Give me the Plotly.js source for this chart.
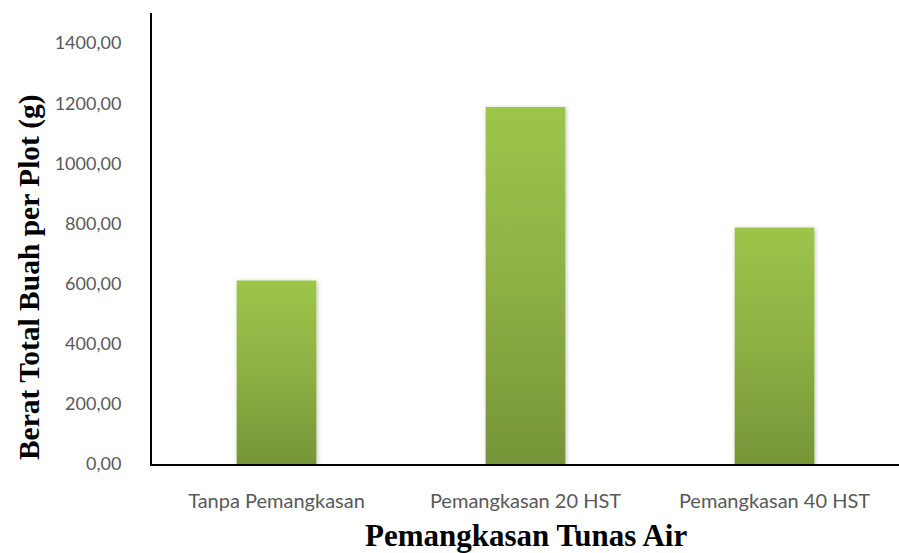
<!DOCTYPE html>
<html>
<head>
<meta charset="utf-8">
<script src="https://cdn.plot.ly/plotly-3.0.1.min.js"></script>
<style>
  html, body { margin: 0; padding: 0; background: #fff; }
  #chart { width: 899px; height: 553px; }
</style>
</head>
<body>
<div id="chart"></div>
<script>
// Treatments and total fruit weight per plot (g)
const categories = ["Tanpa Pemangkasan", "Pemangkasan 20 HST", "Pemangkasan 40 HST"];
const weights = [610, 1187, 787];
const yTickValues = [0, 200, 400, 600, 800, 1000, 1200, 1400];
const yTickLabels = ["0,00", "200,00", "400,00", "600,00", "800,00", "1000,00", "1200,00", "1400,00"];

const sans = "Lato, 'Open Sans', sans-serif";
const serif = "'Liberation Serif', 'Times New Roman', serif";

const trace = {
  type: "bar",
  x: categories,
  y: weights,
  width: 0.32,
  marker: { color: "#8db044", line: { width: 0 } },
  hoverinfo: "x+y"
};

const layout = {
  width: 899,
  height: 553,
  margin: { l: 152, r: 0, t: 13, b: 89 },
  paper_bgcolor: "#fff",
  plot_bgcolor: "#fff",
  showlegend: false,
  xaxis: {
    type: "category",
    range: [-0.5, 2.5],
    showline: true,
    linecolor: "#000",
    linewidth: 2,
    showgrid: false,
    zeroline: false,
    ticks: "",
    tickfont: { family: sans, size: 20, color: "#595959" },
    ticklabelstandoff: 18
  },
  yaxis: {
    range: [0, 1500],
    showline: true,
    linecolor: "#000",
    linewidth: 2,
    showgrid: false,
    zeroline: false,
    ticks: "",
    tickmode: "array",
    tickvals: yTickValues,
    ticktext: yTickLabels,
    tickfont: { family: sans, size: 18, color: "#595959" },
    ticklabelstandoff: 25
  },
  annotations: [
    {
      text: "<b>Berat Total Buah per Plot (g)</b>",
      xref: "paper", yref: "paper",
      x: -0.163, y: 0.415,
      xanchor: "center", yanchor: "middle",
      textangle: -90,
      showarrow: false,
      font: { family: serif, size: 29.5, color: "#000" }
    },
    {
      text: "<b>Pemangkasan Tunas Air</b>",
      xref: "paper", yref: "paper",
      x: 0.5, y: -0.158,
      xanchor: "center", yanchor: "middle",
      showarrow: false,
      font: { family: serif, size: 31, color: "#000" }
    }
  ]
};

Plotly.newPlot("chart", [trace], layout, { displayModeBar: false, staticPlot: true }).then(function (gd) {
  // Vertical gradient fill and soft shadow for the bars
  const svg = gd.querySelector("svg.main-svg");
  const ns = "http://www.w3.org/2000/svg";
  let defs = svg.querySelector("defs");
  if (!defs) { defs = document.createElementNS(ns, "defs"); svg.insertBefore(defs, svg.firstChild); }

  const grad = document.createElementNS(ns, "linearGradient");
  grad.setAttribute("id", "barGradient");
  grad.setAttribute("x1", "0"); grad.setAttribute("y1", "0");
  grad.setAttribute("x2", "0"); grad.setAttribute("y2", "1");
  [["0", "#9dc54a"], ["0.5", "#8db043"], ["1", "#769538"]].forEach(function (s) {
    const stop = document.createElementNS(ns, "stop");
    stop.setAttribute("offset", s[0]);
    stop.setAttribute("stop-color", s[1]);
    grad.appendChild(stop);
  });
  defs.appendChild(grad);

  const filt = document.createElementNS(ns, "filter");
  filt.setAttribute("id", "barShadow");
  filt.setAttribute("x", "-20%"); filt.setAttribute("y", "-5%");
  filt.setAttribute("width", "140%"); filt.setAttribute("height", "110%");
  const ds = document.createElementNS(ns, "feDropShadow");
  ds.setAttribute("dx", "1"); ds.setAttribute("dy", "1");
  ds.setAttribute("stdDeviation", "2");
  ds.setAttribute("flood-color", "#000");
  ds.setAttribute("flood-opacity", "0.25");
  filt.appendChild(ds);
  defs.appendChild(filt);

  gd.querySelectorAll(".barlayer .point path").forEach(function (p) {
    p.style.fill = "url(#barGradient)";
    p.setAttribute("filter", "url(#barShadow)");
  });
});
</script>
</body>
</html>
